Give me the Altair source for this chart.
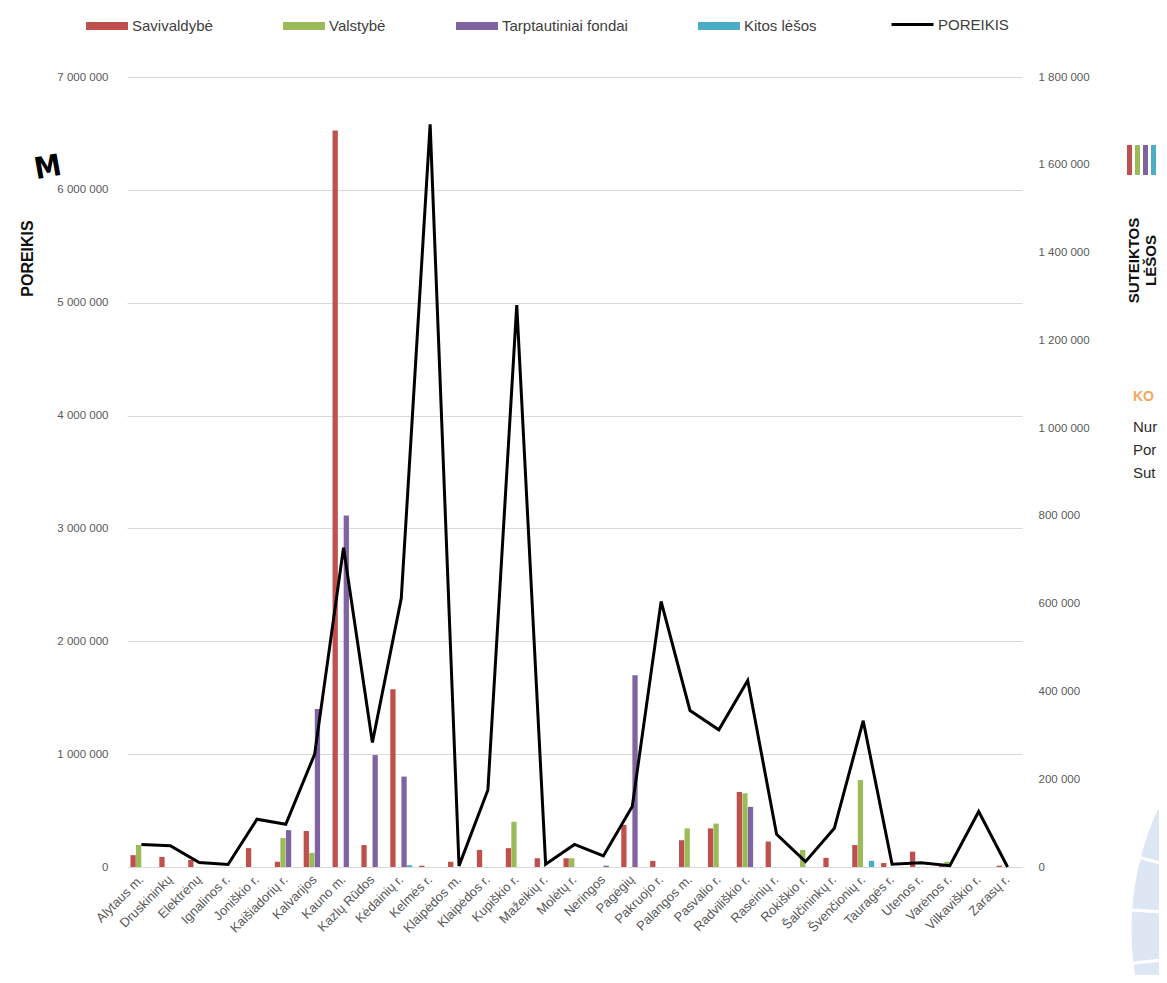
import altair as alt
import pandas as pd
import math

categories = ["Alytaus m.", "Druskininkų", "Elektrėnų", "Ignalinos r.", "Joniškio r.",
              "Kaišiadorių r.", "Kalvarijos", "Kauno m.", "Kazlų Rūdos", "Kėdainių r.",
              "Kelmės r.", "Klaipėdos m.", "Klaipėdos r.", "Kupiškio r.", "Mažeikių r.",
              "Molėtų r.", "Neringos", "Pagėgių", "Pakruojo r.", "Palangos m.",
              "Pasvalio r.", "Radviliškio r.", "Raseinių r.", "Rokiškio r.", "Šalčininkų r.",
              "Švenčionių r.", "Tauragės r.", "Utenos r.", "Varėnos r.", "Vilkaviškio r.",
              "Zarasų r."]

savivaldybe = [27000, 23000, 16000, 0, 43000, 12000, 82000, 1678000, 50000, 405000,
               3000, 12000, 39000, 43000, 20000, 20000, 0, 96000, 14000, 61000,
               88000, 171000, 58000, 0, 21000, 50000, 9000, 35000, 6000, 0,
               3000]
valstybe = [50000, 0, 0, 0, 0, 66000, 32000, 0, 0, 0,
            0, 0, 0, 103000, 0, 20000, 0, 0, 0, 88000,
            99000, 168000, 0, 39000, 0, 198000, 0, 0, 12000, 0,
            0]
tarptautiniai = [0, 0, 0, 0, 0, 84000, 360000, 801000, 255000, 206000,
                 0, 0, 0, 0, 0, 0, 3000, 437000, 0, 0,
                 0, 137000, 0, 0, 0, 0, 0, 0, 0, 0,
                 0]
kitos = [0, 0, 0, 0, 0, 0, 0, 0, 0, 4000,
         0, 0, 0, 0, 0, 0, 0, 0, 0, 0,
         0, 0, 0, 0, 0, 14000, 0, 0, 0, 0,
         0]
poreikis = [200000, 189000, 40000, 22000, 423000, 379000, 1000000, 2830000, 1103000, 2380000,
            6580000, 10000, 683000, 4980000, 25000, 200000, 98000, 535000, 2354000, 1387000,
            1216000, 1653000, 290000, 47000, 343000, 1296000, 24000, 38000, 12000, 491000,
            0]

series_names = ["Savivaldybė", "Valstybė", "Tarptautiniai fondai", "Kitos lėšos"]
series_colors = ["#c0504d", "#9bbb59", "#8064a2", "#4bacc6"]
left_ticks = [0, 1000000, 2000000, 3000000, 4000000, 5000000, 6000000, 7000000]
right_ticks = [0, 200000, 400000, 600000, 800000, 1000000, 1200000, 1400000, 1600000, 1800000]
side_lines = ["Nur", "Por", "Sut"]

rows = []
for name, vals in zip(series_names, [savivaldybe, valstybe, tarptautiniai, kitos]):
    for c, v in zip(categories, vals):
        rows.append({"cat": c, "series": name, "value": v})
bars_df = pd.DataFrame(rows)
line_df = pd.DataFrame({"cat": categories, "need": poreikis, "series": ["POREIKIS"] * len(categories)})

FONT = "Liberation Sans"
NUMFMT = "replace(format(datum.value, ','), regexp(',', 'g'), ' ')"

W, H = 895, 790
PL, PT = 119, 69
PR = 1151 - PL - W
PB = 967 - PT - H

x_enc = alt.X("cat:N", sort=categories,
              scale=alt.Scale(domain=categories, paddingInner=0, paddingOuter=0),
              axis=alt.Axis(title=None, labelAngle=315, labelAlign="right", labelBaseline="middle",
                            labelPadding=10, ticks=False, domain=False, labelFontSize=13,
                            labelColor="#595959", labelFont=FONT))

bars = alt.Chart(bars_df).mark_bar().encode(
    x=x_enc,
    xOffset=alt.XOffset("series:N", sort=series_names,
                        scale=alt.Scale(domain=series_names, paddingOuter=0.62, paddingInner=0.05)),
    y=alt.Y("value:Q",
            scale=alt.Scale(domain=[0, 1800000], nice=False, zero=True),
            axis=alt.Axis(orient="right", values=right_ticks, grid=False, domain=False, ticks=False,
                          labelExpr=NUMFMT, labelPadding=16, labelFontSize=11.5, labelColor="#595959",
                          labelFont=FONT,
                          title=["SUTEIKTOS", "LĖŠOS"], titleAngle=270, titleX=111, titleY=183,
                          titleAlign="center", titleBaseline="middle", titleFontSize=15,
                          titleFontWeight="bold", titleColor="#111111", titleFont=FONT)),
    color=alt.Color("series:N", sort=series_names,
                    scale=alt.Scale(domain=series_names, range=series_colors),
                    legend=alt.Legend(orient="none", legendX=-41, legendY=-72, direction="horizontal",
                                      title=None, symbolType="M-1,-0.19L1,-0.19L1,0.19L-1,0.19Z",
                                      symbolSize=1764, symbolStrokeWidth=0, symbolOpacity=1,
                                      columnPadding=70, labelFontSize=15, labelColor="#404040",
                                      labelFont=FONT, labelLimit=400, labelOffset=4, padding=0)),
)

line = alt.Chart(line_df).mark_line(strokeWidth=3).encode(
    x=alt.X("cat:N", sort=categories),
    y=alt.Y("need:Q",
            scale=alt.Scale(domain=[0, 7000000], nice=False, zero=True),
            axis=alt.Axis(orient="left", values=left_ticks, grid=True, gridColor="#d9d9d9",
                          gridWidth=1.2, domain=False, ticks=False, labelExpr=NUMFMT,
                          labelPadding=19, labelFontSize=11.5, labelColor="#595959", labelFont=FONT,
                          title="POREIKIS", titleAngle=270, titleX=-100, titleY=181,
                          titleAlign="center", titleBaseline="middle", titleFontSize=16,
                          titleFontWeight="bold", titleColor="#111111", titleFont=FONT)),
    stroke=alt.Stroke("series:N", scale=alt.Scale(domain=["POREIKIS"], range=["black"]),
                      legend=alt.Legend(orient="none", legendX=763, legendY=-75, title=None,
                                        symbolType="stroke", symbolSize=1764, symbolStrokeWidth=3,
                                        labelFontSize=15, labelColor="#404040", labelFont=FONT,
                                        labelOffset=3, padding=0)),
)

one = pd.DataFrame({"k": [0]})

# decorative fragments cut off at the right edge of the slide
circle_layers = []
bounds = [232.0, 242.5, 253.0, 263.4, 274.0, 284.5, 295.0, 305.5, 316.0]
for a, b in zip(bounds[:-1], bounds[1:]):
    circle_layers.append(
        alt.Chart(one).mark_arc(theta=math.radians(a), theta2=math.radians(b), radius=290,
                                fill="#dde6f3", stroke="white", strokeWidth=3).encode(
            x=alt.value(1420 - 127), y=alt.value(930 - 77))
    )

icon_layers = []
for i, col in enumerate(series_colors):
    icon_layers.append(
        alt.Chart(one).mark_rect(color=col).encode(
            x=alt.value(1000 + i * 8), x2=alt.value(1005 + i * 8),
            y=alt.value(68), y2=alt.value(98))
    )

ko = alt.Chart(one).mark_text(text="KO", align="left", baseline="middle", fontSize=14,
                              fontWeight="bold", color="#f0a960", font=FONT).encode(
    x=alt.value(1006), y=alt.value(320))
side_text = []
for i, t in enumerate(side_lines):
    side_text.append(
        alt.Chart(one).mark_text(text=t, align="left", baseline="middle", fontSize=15,
                                 color="#2b2b2b", font=FONT).encode(
            x=alt.value(1006), y=alt.value(350 + 23 * i))
    )
scribble = alt.Chart(one).mark_text(text="M", align="center", baseline="middle", fontSize=30,
                                    fontWeight="bold", color="black", font="DejaVu Sans Condensed",
                                    angle=350).encode(
    x=alt.value(48 - 127), y=alt.value(168 - 77))

chart = alt.layer(*circle_layers, bars, line, *icon_layers, ko, *side_text, scribble).resolve_scale(
    y="independent"
).properties(
    width=W, height=H,
    autosize=alt.AutoSizeParams(type="none"),
    padding={"left": PL, "top": PT, "right": PR, "bottom": PB},
    background="white",
).configure_view(stroke=None)

chart.save("out.html", embed_options={"renderer": "svg", "actions": False})
